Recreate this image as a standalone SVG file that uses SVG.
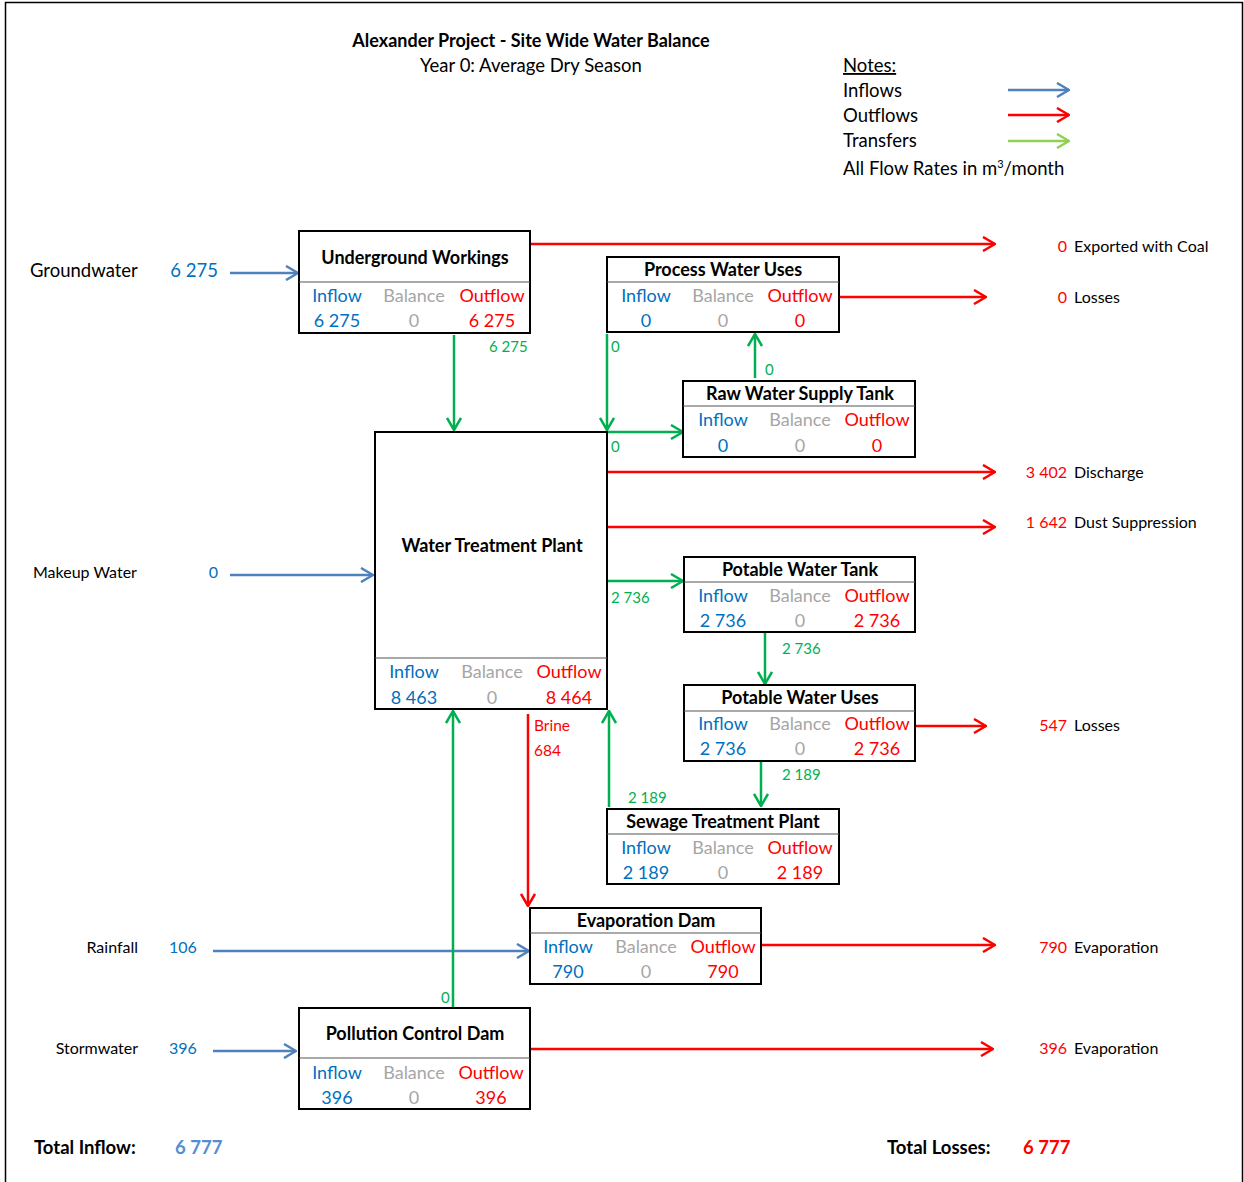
<svg xmlns="http://www.w3.org/2000/svg" width="1244" height="1182" viewBox="0 0 1244 1182">
<defs>
<style>
text{font-family:Lato,"Liberation Sans",sans-serif;}
.hdr{font-weight:bold;font-size:18px;text-anchor:middle;fill:#000}
.c{font-size:18px;text-anchor:middle}
.lbl{font-size:18.5px;fill:#000}
.rl{font-size:16px;fill:#000}
.gr{fill:#00B050;font-size:15px}
.in{fill:#0070C0}
.bal{fill:#A6A6A6}
.out{fill:#FF0000}
.tin{fill:#558ED5}
.box{fill:#fff;stroke:#000;stroke-width:2}
.dv{stroke:#555;stroke-width:1.2}
.fin{stroke:#4F81BD;stroke-width:2.5;fill:none;marker-end:url(#ab)}
.fout{stroke:#FF0000;stroke-width:2.5;fill:none;marker-end:url(#ar)}
.ftr{stroke:#00B050;stroke-width:2.5;fill:none;marker-end:url(#ag)}
.flg{stroke:#92D050;stroke-width:2.5;fill:none;marker-end:url(#al)}
</style>
<marker id="ab" viewBox="0 0 14 16" refX="13" refY="8" markerWidth="14" markerHeight="16" markerUnits="userSpaceOnUse" orient="auto"><path d="M1,1 L13,8 L1,15" fill="none" stroke="#4F81BD" stroke-width="2.5"/></marker>
<marker id="ar" viewBox="0 0 14 16" refX="13" refY="8" markerWidth="14" markerHeight="16" markerUnits="userSpaceOnUse" orient="auto"><path d="M1,1 L13,8 L1,15" fill="none" stroke="#FF0000" stroke-width="2.5"/></marker>
<marker id="ag" viewBox="0 0 14 16" refX="13" refY="8" markerWidth="14" markerHeight="16" markerUnits="userSpaceOnUse" orient="auto"><path d="M1,1 L13,8 L1,15" fill="none" stroke="#00B050" stroke-width="2.5"/></marker>
<marker id="al" viewBox="0 0 14 16" refX="13" refY="8" markerWidth="14" markerHeight="16" markerUnits="userSpaceOnUse" orient="auto"><path d="M1,1 L13,8 L1,15" fill="none" stroke="#92D050" stroke-width="2.5"/></marker>
</defs>
<rect width="1244" height="1182" fill="#fff"/>
<path d="M5.5,1182 V2.5 H1242.5 V1182" fill="none" stroke="#000" stroke-width="1.5"/>

<g id="header">
<text x="531" y="47" class="hdr">Alexander Project - Site Wide Water Balance</text>
<text x="531" y="72" class="lbl" text-anchor="middle">Year 0: Average Dry Season</text>
</g>
<g id="legend">
<text x="843" y="72" class="lbl" text-decoration="underline">Notes:</text>
<text x="843" y="97" class="lbl">Inflows</text>
<text x="843" y="122" class="lbl">Outflows</text>
<text x="843" y="147" class="lbl">Transfers</text>
<text x="843" y="175" class="lbl">All Flow Rates in m<tspan dy="-7" font-size="11">3</tspan><tspan dy="7">/month</tspan></text>
<line x1="1008" y1="90" x2="1069" y2="90" class="fin"/>
<line x1="1008" y1="115" x2="1069" y2="115" class="fout"/>
<line x1="1008" y1="141" x2="1069" y2="141" class="flg"/>
</g>

<g id="connectors">
<line x1="230" y1="273" x2="298" y2="273" class="fin"/>
<line x1="230" y1="575" x2="373" y2="575" class="fin"/>
<line x1="213" y1="951" x2="529" y2="951" class="fin"/>
<line x1="213" y1="1051" x2="296" y2="1051" class="fin"/>
<line x1="531" y1="244" x2="995" y2="244" class="fout"/>
<line x1="840" y1="297" x2="986" y2="297" class="fout"/>
<line x1="608" y1="472" x2="995" y2="472" class="fout"/>
<line x1="608" y1="527" x2="995" y2="527" class="fout"/>
<line x1="916" y1="726" x2="986" y2="726" class="fout"/>
<line x1="762" y1="945" x2="995" y2="945" class="fout"/>
<line x1="531" y1="1049" x2="993" y2="1049" class="fout"/>
<line x1="528" y1="714" x2="528" y2="906" class="fout"/>
<line x1="454" y1="335" x2="454" y2="430" class="ftr"/>
<line x1="607" y1="334" x2="607" y2="430" class="ftr"/>
<line x1="608" y1="432" x2="683" y2="432" class="ftr"/>
<line x1="755" y1="378" x2="755" y2="334" class="ftr"/>
<line x1="608" y1="581" x2="683" y2="581" class="ftr"/>
<line x1="765" y1="633" x2="765" y2="684" class="ftr"/>
<line x1="761" y1="762" x2="761" y2="806" class="ftr"/>
<line x1="609" y1="807" x2="609" y2="711" class="ftr"/>
<line x1="453" y1="1007" x2="453" y2="711" class="ftr"/>
</g>

<g id="flow-labels">
<text x="489" y="352" class="gr">6 275</text>
<text x="611" y="352" class="gr">0</text>
<text x="765" y="375" class="gr">0</text>
<text x="611" y="452" class="gr">0</text>
<text x="611" y="603" class="gr">2 736</text>
<text x="782" y="654" class="gr">2 736</text>
<text x="782" y="780" class="gr">2 189</text>
<text x="628" y="803" class="gr">2 189</text>
<text x="441" y="1003" class="gr">0</text>
<text x="534" y="731" class="out" font-size="15.5">Brine</text>
<text x="534" y="756" class="out" font-size="15.5">684</text>
</g>

<g id="sources">
<text x="30" y="277" class="lbl">Groundwater</text>
<text x="218" y="277" class="lbl in" text-anchor="end">6 275</text>
<text x="33" y="578" class="rl">Makeup Water</text>
<text x="218" y="578" class="rl in" text-anchor="end">0</text>
<text x="138" y="953" class="rl" text-anchor="end">Rainfall</text>
<text x="169" y="953" class="rl in">106</text>
<text x="138" y="1054" class="rl" text-anchor="end">Stormwater</text>
<text x="169" y="1054" class="rl in">396</text>
</g>

<g id="sinks">
<text x="1067" y="252" class="rl out" text-anchor="end">0</text><text x="1074" y="252" class="rl">Exported with Coal</text>
<text x="1067" y="303" class="rl out" text-anchor="end">0</text><text x="1074" y="303" class="rl">Losses</text>
<text x="1067" y="478" class="rl out" text-anchor="end">3 402</text><text x="1074" y="478" class="rl">Discharge</text>
<text x="1067" y="528" class="rl out" text-anchor="end">1 642</text><text x="1074" y="528" class="rl">Dust Suppression</text>
<text x="1067" y="731" class="rl out" text-anchor="end">547</text><text x="1074" y="731" class="rl">Losses</text>
<text x="1067" y="953" class="rl out" text-anchor="end">790</text><text x="1074" y="953" class="rl">Evaporation</text>
<text x="1067" y="1054" class="rl out" text-anchor="end">396</text><text x="1074" y="1054" class="rl">Evaporation</text>
</g>

<g id="totals">
<text x="34" y="1154" class="lbl" font-weight="bold">Total Inflow:</text>
<text x="175" y="1154" class="lbl tin" font-weight="bold">6 777</text>
<text x="887" y="1154" class="lbl" font-weight="bold">Total Losses:</text>
<text x="1023" y="1154" class="lbl out" font-weight="bold">6 777</text>
</g>

<g id="underground-workings">
<rect x="299" y="231" width="231" height="102" class="box"/>
<line x1="299" y1="282" x2="530" y2="282" class="dv"/>
<text x="415" y="264" class="hdr">Underground Workings</text>
<text x="337" y="302" class="c in">Inflow</text><text x="414" y="302" class="c bal">Balance</text><text x="492" y="302" class="c out">Outflow</text>
<text x="337" y="327" class="c in">6 275</text><text x="414" y="327" class="c bal">0</text><text x="492" y="327" class="c out">6 275</text>
</g>

<g id="process-water-uses">
<rect x="607" y="257" width="232" height="75" class="box"/>
<line x1="607" y1="282" x2="839" y2="282" class="dv"/>
<text x="723" y="276" class="hdr">Process Water Uses</text>
<text x="646" y="302" class="c in">Inflow</text><text x="723" y="302" class="c bal">Balance</text><text x="800" y="302" class="c out">Outflow</text>
<text x="646" y="327" class="c in">0</text><text x="723" y="327" class="c bal">0</text><text x="800" y="327" class="c out">0</text>
</g>

<g id="raw-water-supply-tank">
<rect x="683" y="381" width="232" height="76" class="box"/>
<line x1="683" y1="406" x2="915" y2="406" class="dv"/>
<text x="800" y="400" class="hdr">Raw Water Supply Tank</text>
<text x="723" y="426" class="c in">Inflow</text><text x="800" y="426" class="c bal">Balance</text><text x="877" y="426" class="c out">Outflow</text>
<text x="723" y="452" class="c in">0</text><text x="800" y="452" class="c bal">0</text><text x="877" y="452" class="c out">0</text>
</g>

<g id="water-treatment-plant">
<rect x="375" y="432" width="232" height="277" class="box"/>
<line x1="375" y1="658" x2="607" y2="658" class="dv"/>
<text x="492" y="552" class="hdr">Water Treatment Plant</text>
<text x="414" y="678" class="c in">Inflow</text><text x="492" y="678" class="c bal">Balance</text><text x="569" y="678" class="c out">Outflow</text>
<text x="414" y="704" class="c in">8 463</text><text x="492" y="704" class="c bal">0</text><text x="569" y="704" class="c out">8 464</text>
</g>

<g id="potable-water-tank">
<rect x="684" y="557" width="231" height="75" class="box"/>
<line x1="684" y1="582" x2="915" y2="582" class="dv"/>
<text x="800" y="576" class="hdr">Potable Water Tank</text>
<text x="723" y="602" class="c in">Inflow</text><text x="800" y="602" class="c bal">Balance</text><text x="877" y="602" class="c out">Outflow</text>
<text x="723" y="627" class="c in">2 736</text><text x="800" y="627" class="c bal">0</text><text x="877" y="627" class="c out">2 736</text>
</g>

<g id="potable-water-uses">
<rect x="684" y="685" width="231" height="76" class="box"/>
<line x1="684" y1="711" x2="915" y2="711" class="dv"/>
<text x="800" y="704" class="hdr">Potable Water Uses</text>
<text x="723" y="730" class="c in">Inflow</text><text x="800" y="730" class="c bal">Balance</text><text x="877" y="730" class="c out">Outflow</text>
<text x="723" y="755" class="c in">2 736</text><text x="800" y="755" class="c bal">0</text><text x="877" y="755" class="c out">2 736</text>
</g>

<g id="sewage-treatment-plant">
<rect x="607" y="809" width="232" height="75" class="box"/>
<line x1="607" y1="834" x2="839" y2="834" class="dv"/>
<text x="723" y="828" class="hdr">Sewage Treatment Plant</text>
<text x="646" y="854" class="c in">Inflow</text><text x="723" y="854" class="c bal">Balance</text><text x="800" y="854" class="c out">Outflow</text>
<text x="646" y="879" class="c in">2 189</text><text x="723" y="879" class="c bal">0</text><text x="800" y="879" class="c out">2 189</text>
</g>

<g id="evaporation-dam">
<rect x="530" y="908" width="231" height="76" class="box"/>
<line x1="530" y1="933" x2="761" y2="933" class="dv"/>
<text x="646" y="927" class="hdr">Evaporation Dam</text>
<text x="568" y="953" class="c in">Inflow</text><text x="646" y="953" class="c bal">Balance</text><text x="723" y="953" class="c out">Outflow</text>
<text x="568" y="978" class="c in">790</text><text x="646" y="978" class="c bal">0</text><text x="723" y="978" class="c out">790</text>
</g>

<g id="pollution-control-dam">
<rect x="299" y="1008" width="231" height="101" class="box"/>
<line x1="299" y1="1058" x2="530" y2="1058" class="dv"/>
<text x="415" y="1040" class="hdr">Pollution Control Dam</text>
<text x="337" y="1079" class="c in">Inflow</text><text x="414" y="1079" class="c bal">Balance</text><text x="491" y="1079" class="c out">Outflow</text>
<text x="337" y="1104" class="c in">396</text><text x="414" y="1104" class="c bal">0</text><text x="491" y="1104" class="c out">396</text>
</g>
</svg>
